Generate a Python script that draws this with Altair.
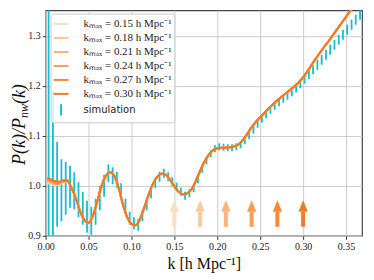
import altair as alt
import pandas as pd

# ---------------- data ----------------
kmax_values = [0.15, 0.18, 0.21, 0.24, 0.27, 0.30]
model_labels = ["kₘₐₓ = 0.15 h Mpc⁻¹", "kₘₐₓ = 0.18 h Mpc⁻¹", "kₘₐₓ = 0.21 h Mpc⁻¹",
                "kₘₐₓ = 0.24 h Mpc⁻¹", "kₘₐₓ = 0.27 h Mpc⁻¹", "kₘₐₓ = 0.30 h Mpc⁻¹"]
model_colors = ["#fddcbf", "#fdc89c", "#fdb37a", "#fd9d56", "#fa8935", "#f47a20"]
sim_label = "simulation"
sim_color = "#17becf"

# low-k part of each model curve (they fan out slightly)
k_low = [0.002, 0.005, 0.010, 0.015, 0.020, 0.025]
ratio_low = [
    [1.006, 1.004, 1.001, 1.002, 1.006, 1.008],  # 0.15
    [1.008, 1.006, 1.003, 1.003, 1.007, 1.009],  # 0.18
    [1.010, 1.008, 1.004, 1.004, 1.008, 1.009],  # 0.21
    [1.012, 1.010, 1.006, 1.005, 1.009, 1.010],  # 0.24
    [1.014, 1.012, 1.008, 1.007, 1.010, 1.010],  # 0.27
    [1.016, 1.014, 1.010, 1.008, 1.011, 1.011],  # 0.30
]
# common part of the model curves
k_high = [0.030, 0.035, 0.040, 0.045, 0.050, 0.055, 0.060, 0.065, 0.070, 0.075,
          0.080, 0.085, 0.090, 0.095, 0.100, 0.105, 0.110, 0.115, 0.120, 0.125,
          0.130, 0.135, 0.140, 0.145, 0.150, 0.155, 0.160, 0.165, 0.170, 0.175,
          0.180, 0.185, 0.190, 0.195, 0.200, 0.205, 0.210, 0.215, 0.220, 0.225,
          0.230, 0.235, 0.240, 0.245, 0.250, 0.255, 0.260, 0.265, 0.270, 0.275,
          0.280, 0.285, 0.290, 0.295, 0.300, 0.305, 0.310, 0.315, 0.320, 0.325,
          0.330, 0.335, 0.340, 0.345, 0.350, 0.355, 0.360, 0.365, 0.370]
ratio_high = [0.996, 0.976, 0.950, 0.932, 0.926, 0.940, 0.968, 0.999, 1.019, 1.027,
              1.020, 0.996, 0.963, 0.937, 0.924, 0.921, 0.934, 0.957, 0.982, 1.004,
              1.018, 1.024, 1.022, 1.012, 0.999, 0.988, 0.983, 0.985, 0.993, 1.010,
              1.030, 1.048, 1.062, 1.071, 1.075, 1.076, 1.076, 1.077, 1.079, 1.083,
              1.092, 1.104, 1.117, 1.128, 1.137, 1.146, 1.155, 1.163, 1.171, 1.178,
              1.185, 1.192, 1.199, 1.207, 1.217, 1.229, 1.242, 1.255, 1.267, 1.279,
              1.290, 1.302, 1.314, 1.326, 1.338, 1.350, 1.362, 1.374, 1.386]

# simulation measurements with 1-sigma errors
k_sim = [0.0035, 0.0085, 0.0134, 0.0184, 0.0234, 0.0284, 0.0333, 0.0383, 0.0433, 0.0482,
         0.0532, 0.0582, 0.0631, 0.0681, 0.0731, 0.0781, 0.0830, 0.0880, 0.0930, 0.0979,
         0.1029, 0.1079, 0.1128, 0.1178, 0.1228, 0.1278, 0.1327, 0.1377, 0.1427, 0.1476,
         0.1526, 0.1576, 0.1625, 0.1675, 0.1725, 0.1775, 0.1824, 0.1874, 0.1924, 0.1973,
         0.2023, 0.2073, 0.2122, 0.2172, 0.2222, 0.2272, 0.2321, 0.2371, 0.2421, 0.2470,
         0.2520, 0.2570, 0.2619, 0.2669, 0.2719, 0.2769, 0.2818, 0.2868, 0.2918, 0.2967,
         0.3017, 0.3067, 0.3116, 0.3166, 0.3216, 0.3266, 0.3315, 0.3365, 0.3415, 0.3464,
         0.3514, 0.3564, 0.3613, 0.3663]
p_sim = [1.000, 1.000, 1.003, 0.991, 0.995, 0.998, 0.990, 0.972, 0.955, 0.938,
         0.930, 0.948, 0.975, 1.000, 1.025, 1.020, 1.012, 0.990, 0.960, 0.935,
         0.925, 0.922, 0.940, 0.962, 0.985, 1.005, 1.018, 1.025, 1.018, 1.008,
         0.998, 0.988, 0.980, 0.985, 0.995, 1.012, 1.033, 1.050, 1.064, 1.074,
         1.078, 1.077, 1.076, 1.076, 1.078, 1.082, 1.090, 1.100, 1.112, 1.124,
         1.134, 1.143, 1.152, 1.160, 1.167, 1.174, 1.181, 1.188, 1.196, 1.204,
         1.213, 1.222, 1.232, 1.242, 1.252, 1.262, 1.272, 1.282, 1.292, 1.302,
         1.312, 1.322, 1.332, 1.342]
err_sim = [0.500, 0.190, 0.085, 0.062, 0.053, 0.042, 0.037, 0.035, 0.033, 0.032,
           0.028, 0.026, 0.024, 0.022, 0.018, 0.017, 0.016, 0.015, 0.014, 0.013,
           0.012, 0.012, 0.011, 0.011, 0.010, 0.010, 0.010, 0.009, 0.009, 0.009,
           0.008, 0.008, 0.008, 0.008, 0.008, 0.007, 0.007, 0.007, 0.007, 0.007,
           0.007, 0.007, 0.007, 0.007, 0.007, 0.007, 0.007, 0.007, 0.008, 0.008,
           0.008, 0.008, 0.008, 0.008, 0.008, 0.008, 0.009, 0.009, 0.009, 0.009,
           0.009, 0.009, 0.009, 0.010, 0.010, 0.010, 0.010, 0.010, 0.010, 0.010,
           0.010, 0.010, 0.010, 0.010]

x_ticks = [0.00, 0.05, 0.10, 0.15, 0.20, 0.25, 0.30, 0.35]
y_ticks = [0.9, 1.0, 1.1, 1.2, 1.3]

# ---------------- tables ----------------
rows = []
for j, lab in enumerate(model_labels):
    for k, r in zip(k_low, ratio_low[j]):
        rows.append({"k": k, "ratio": r, "series": lab, "order": j})
    for k, r in zip(k_high, ratio_high):
        rows.append({"k": k, "ratio": r, "series": lab, "order": j})
models = pd.DataFrame(rows)

sim = pd.DataFrame({"k": k_sim, "lo": [p - e for p, e in zip(p_sim, err_sim)],
                    "hi": [p + e for p, e in zip(p_sim, err_sim)], "series": sim_label})

arrows = pd.DataFrame({"k": kmax_values, "series": model_labels})
legend_df = pd.DataFrame({"series": model_labels + [sim_label], "k": 0.1, "ratio": 0.5})

domain = model_labels + [sim_label]
color_scale = alt.Scale(domain=domain, range=model_colors + [sim_color])
shape_scale = alt.Scale(domain=domain, range=["stroke"] * 6 + ["M0,-0.75L0,0.75"])

X = alt.X("k:Q", scale=alt.Scale(domain=[0, 0.3686], nice=False, zero=False),
          axis=alt.Axis(values=x_ticks, format=".2f", title="k [h Mpc⁻¹]", labelFlush=False))
Y = alt.Y("ratio:Q", scale=alt.Scale(domain=[0.9, 1.351], nice=False, zero=False),
          axis=alt.Axis(values=y_ticks, format=".1f", title=None, labelFlush=False))

legend = alt.Legend(title=None, orient="none", legendX=5, legendY=3.3,
                    fillColor="rgba(255,255,255,0.8)", strokeColor="#cccccc",
                    cornerRadius=3, padding=2, symbolSize=225, symbolStrokeWidth=2,
                    labelFont={"expr": "datum.label == 'simulation' ? 'DejaVu Sans' : 'Liberation Serif'"},
                    labelFontSize={"expr": "datum.label == 'simulation' ? 10 : 11"},
                    labelOffset=14,
                    rowPadding=0, symbolOpacity=1, labelColor="#222")

sim_layer = alt.Chart(sim).mark_rule(strokeWidth=1.8, clip=True).encode(
    x=X, y=alt.Y("lo:Q", scale=alt.Scale(domain=[0.9, 1.351], nice=False, zero=False),
                 axis=alt.Axis(values=y_ticks, format=".1f", title=None, labelFlush=False)),
    y2="hi:Q",
    color=alt.Color("series:N", scale=color_scale, legend=legend))

model_layer = alt.Chart(models).mark_line(strokeWidth=2, clip=True, interpolate="monotone").encode(
    x=X, y=Y, detail="series:N", order="k:Q",
    color=alt.Color("series:N", scale=color_scale, legend=legend))

shaft_layer = alt.Chart(arrows).mark_rule(strokeWidth=4).encode(
    x=X, y=alt.datum(0.918), y2=alt.datum(0.948),
    color=alt.Color("series:N", scale=color_scale, legend=legend))

head_layer = alt.Chart(arrows).mark_point(filled=True, opacity=1, size=110,
                                          shape="M0,-1.1L0.9,1.1L-0.9,1.1Z").encode(
    x=X, y=alt.datum(0.9595),
    color=alt.Color("series:N", scale=color_scale, legend=legend))

legend_layer = alt.Chart(legend_df).mark_point(filled=False, clip=True).encode(
    x=X, y=Y,
    color=alt.Color("series:N", scale=color_scale, legend=legend),
    shape=alt.Shape("series:N", scale=shape_scale, legend=legend))

def txt(s, x, y, size, italic=True):
    return alt.Chart(pd.DataFrame({"t": [s]})).mark_text(
        angle=270, align="left", baseline="alphabetic", font="Liberation Serif",
        fontSize=size, fontStyle="italic" if italic else "normal", color="#111"
    ).encode(x=alt.value(x), y=alt.value(y), text="t:N")

ytitle = [txt("P(k)/P", -21, 155, 18), txt("nw", -18, 108, 12), txt("(k)", -21, 94, 18)]

chart = alt.layer(sim_layer, model_layer, shaft_layer, head_layer, legend_layer, *ytitle).properties(
    width=317, height=226,
    autosize=alt.AutoSizeParams(type="none"),
    padding={"left": 37.7, "top": 2, "right": 4, "bottom": 44},
).configure_view(stroke="#444444", strokeWidth=1.2).configure_axis(
    grid=True, gridColor="#cccccc", gridWidth=1, domain=False,
    tickColor="#333333", tickSize=3.5, tickWidth=1,
    labelFont="Liberation Serif", labelFontSize=10, labelColor="#222", labelPadding=2,
    titleFont="Liberation Serif", titleFontSize=16, titleFontWeight="normal", titleColor="#111",
).configure_axisX(titlePadding=4, labelFlush=False)

chart.save("out.html", embed_options={"renderer": "svg", "actions": False})
